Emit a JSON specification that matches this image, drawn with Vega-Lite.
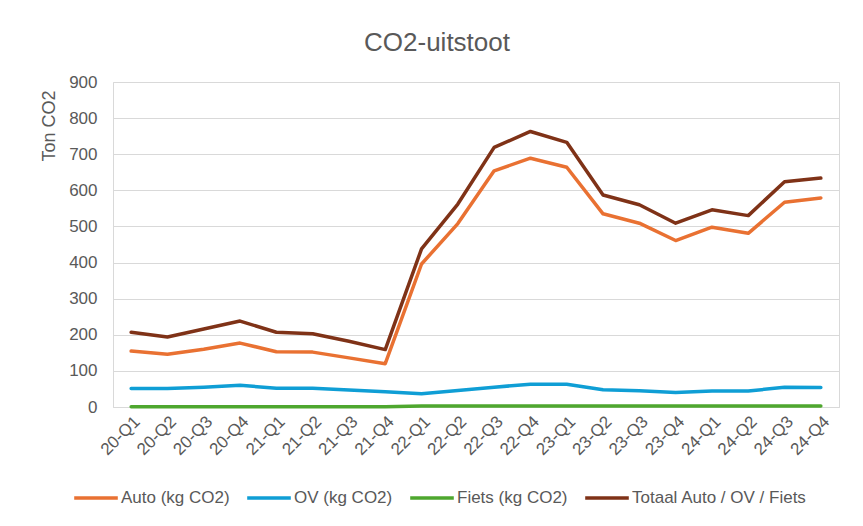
{
  "$schema": "https://vega.github.io/schema/vega-lite/v6.json",
  "autosize": {"type": "none"},
  "width": 726,
  "height": 325,
  "padding": {"left": 113, "top": 82, "right": 24, "bottom": 119},
  "background": "white",
  "title": {"text": "CO2-uitstoot", "fontSize": 26, "fontWeight": "normal", "color": "#595959", "font": "Liberation Sans", "anchor": "middle", "dx": -39, "offset": 17},
  "config": {
    "view": {"stroke": "#d9d9d9", "strokeWidth": 1},
    "font": "Liberation Sans"
  },
  "data": {
    "values": [
      {"q": "20-Q1", "s": "Auto (kg CO2)", "v": 155}, {"q": "20-Q2", "s": "Auto (kg CO2)", "v": 146}, {"q": "20-Q3", "s": "Auto (kg CO2)", "v": 160}, {"q": "20-Q4", "s": "Auto (kg CO2)", "v": 177},
      {"q": "21-Q1", "s": "Auto (kg CO2)", "v": 153}, {"q": "21-Q2", "s": "Auto (kg CO2)", "v": 152}, {"q": "21-Q3", "s": "Auto (kg CO2)", "v": 136}, {"q": "21-Q4", "s": "Auto (kg CO2)", "v": 120},
      {"q": "22-Q1", "s": "Auto (kg CO2)", "v": 396}, {"q": "22-Q2", "s": "Auto (kg CO2)", "v": 508}, {"q": "22-Q3", "s": "Auto (kg CO2)", "v": 654}, {"q": "22-Q4", "s": "Auto (kg CO2)", "v": 689},
      {"q": "23-Q1", "s": "Auto (kg CO2)", "v": 664}, {"q": "23-Q2", "s": "Auto (kg CO2)", "v": 535}, {"q": "23-Q3", "s": "Auto (kg CO2)", "v": 509}, {"q": "23-Q4", "s": "Auto (kg CO2)", "v": 461},
      {"q": "24-Q1", "s": "Auto (kg CO2)", "v": 498}, {"q": "24-Q2", "s": "Auto (kg CO2)", "v": 481}, {"q": "24-Q3", "s": "Auto (kg CO2)", "v": 567}, {"q": "24-Q4", "s": "Auto (kg CO2)", "v": 579},
      {"q": "20-Q1", "s": "OV (kg CO2)", "v": 51}, {"q": "20-Q2", "s": "OV (kg CO2)", "v": 51}, {"q": "20-Q3", "s": "OV (kg CO2)", "v": 55}, {"q": "20-Q4", "s": "OV (kg CO2)", "v": 60},
      {"q": "21-Q1", "s": "OV (kg CO2)", "v": 52}, {"q": "21-Q2", "s": "OV (kg CO2)", "v": 52}, {"q": "21-Q3", "s": "OV (kg CO2)", "v": 47}, {"q": "21-Q4", "s": "OV (kg CO2)", "v": 42},
      {"q": "22-Q1", "s": "OV (kg CO2)", "v": 37}, {"q": "22-Q2", "s": "OV (kg CO2)", "v": 46}, {"q": "22-Q3", "s": "OV (kg CO2)", "v": 55}, {"q": "22-Q4", "s": "OV (kg CO2)", "v": 63},
      {"q": "23-Q1", "s": "OV (kg CO2)", "v": 63}, {"q": "23-Q2", "s": "OV (kg CO2)", "v": 48}, {"q": "23-Q3", "s": "OV (kg CO2)", "v": 45}, {"q": "23-Q4", "s": "OV (kg CO2)", "v": 40},
      {"q": "24-Q1", "s": "OV (kg CO2)", "v": 44}, {"q": "24-Q2", "s": "OV (kg CO2)", "v": 44}, {"q": "24-Q3", "s": "OV (kg CO2)", "v": 55}, {"q": "24-Q4", "s": "OV (kg CO2)", "v": 54},
      {"q": "20-Q1", "s": "Fiets (kg CO2)", "v": 1}, {"q": "20-Q2", "s": "Fiets (kg CO2)", "v": 1}, {"q": "20-Q3", "s": "Fiets (kg CO2)", "v": 1}, {"q": "20-Q4", "s": "Fiets (kg CO2)", "v": 1},
      {"q": "21-Q1", "s": "Fiets (kg CO2)", "v": 1}, {"q": "21-Q2", "s": "Fiets (kg CO2)", "v": 1}, {"q": "21-Q3", "s": "Fiets (kg CO2)", "v": 1}, {"q": "21-Q4", "s": "Fiets (kg CO2)", "v": 1},
      {"q": "22-Q1", "s": "Fiets (kg CO2)", "v": 3}, {"q": "22-Q2", "s": "Fiets (kg CO2)", "v": 3}, {"q": "22-Q3", "s": "Fiets (kg CO2)", "v": 3}, {"q": "22-Q4", "s": "Fiets (kg CO2)", "v": 3},
      {"q": "23-Q1", "s": "Fiets (kg CO2)", "v": 3}, {"q": "23-Q2", "s": "Fiets (kg CO2)", "v": 3}, {"q": "23-Q3", "s": "Fiets (kg CO2)", "v": 3}, {"q": "23-Q4", "s": "Fiets (kg CO2)", "v": 3},
      {"q": "24-Q1", "s": "Fiets (kg CO2)", "v": 3}, {"q": "24-Q2", "s": "Fiets (kg CO2)", "v": 3}, {"q": "24-Q3", "s": "Fiets (kg CO2)", "v": 3}, {"q": "24-Q4", "s": "Fiets (kg CO2)", "v": 3},
      {"q": "20-Q1", "s": "Totaal Auto / OV / Fiets", "v": 207}, {"q": "20-Q2", "s": "Totaal Auto / OV / Fiets", "v": 194}, {"q": "20-Q3", "s": "Totaal Auto / OV / Fiets", "v": 216}, {"q": "20-Q4", "s": "Totaal Auto / OV / Fiets", "v": 238},
      {"q": "21-Q1", "s": "Totaal Auto / OV / Fiets", "v": 207}, {"q": "21-Q2", "s": "Totaal Auto / OV / Fiets", "v": 203}, {"q": "21-Q3", "s": "Totaal Auto / OV / Fiets", "v": 182}, {"q": "21-Q4", "s": "Totaal Auto / OV / Fiets", "v": 159},
      {"q": "22-Q1", "s": "Totaal Auto / OV / Fiets", "v": 438}, {"q": "22-Q2", "s": "Totaal Auto / OV / Fiets", "v": 562}, {"q": "22-Q3", "s": "Totaal Auto / OV / Fiets", "v": 719}, {"q": "22-Q4", "s": "Totaal Auto / OV / Fiets", "v": 763},
      {"q": "23-Q1", "s": "Totaal Auto / OV / Fiets", "v": 733}, {"q": "23-Q2", "s": "Totaal Auto / OV / Fiets", "v": 587}, {"q": "23-Q3", "s": "Totaal Auto / OV / Fiets", "v": 560}, {"q": "23-Q4", "s": "Totaal Auto / OV / Fiets", "v": 509},
      {"q": "24-Q1", "s": "Totaal Auto / OV / Fiets", "v": 546}, {"q": "24-Q2", "s": "Totaal Auto / OV / Fiets", "v": 530}, {"q": "24-Q3", "s": "Totaal Auto / OV / Fiets", "v": 624}, {"q": "24-Q4", "s": "Totaal Auto / OV / Fiets", "v": 634}
    ]
  },
  "mark": {"type": "line", "strokeWidth": 3.5, "strokeJoin": "round", "strokeCap": "round"},
  "encoding": {
    "x": {
      "field": "q", "type": "ordinal", "sort": null,
      "scale": {"type": "point", "padding": 0.5},
      "axis": {"title": null, "labelAngle": -45, "labelFontSize": 17, "labelColor": "#595959", "labelPadding": 6, "ticks": false, "domainColor": "#d9d9d9", "grid": false}
    },
    "y": {
      "field": "v", "type": "quantitative",
      "scale": {"domain": [0, 900], "nice": false},
      "axis": {"title": "Ton  CO2", "titleFontSize": 18, "titleFontWeight": "normal", "titleColor": "#595959", "titleAnchor": "end", "titlePadding": 10, "titleY": 8,
               "values": [0, 100, 200, 300, 400, 500, 600, 700, 800, 900], "labelFontSize": 17, "labelColor": "#595959", "labelPadding": 16,
               "ticks": false, "domain": false, "gridColor": "#d9d9d9", "gridWidth": 1}
    },
    "color": {
      "field": "s", "type": "nominal", "sort": null,
      "scale": {"domain": ["Auto (kg CO2)", "OV (kg CO2)", "Fiets (kg CO2)", "Totaal Auto / OV / Fiets"], "range": ["#E97132", "#0F9ED5", "#4EA72E", "#7F3217"]},
      "legend": {"title": null, "orient": "none", "direction": "horizontal", "legendX": -41, "legendY": 392,
                 "symbolType": "stroke", "symbolSize": 1900, "symbolStrokeWidth": 3.5, "labelFontSize": 17, "labelColor": "#595959",
                 "labelOffset": 1, "columnPadding": 10, "labelLimit": 0}
    }
  }
}
